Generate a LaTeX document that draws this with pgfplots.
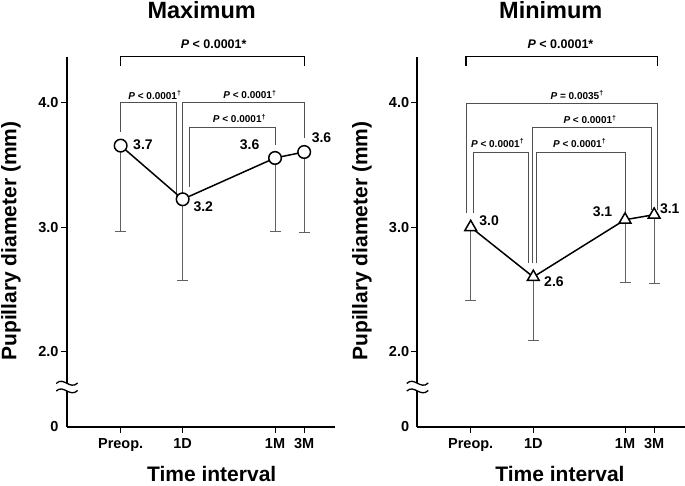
\documentclass[border=0pt]{standalone}
\usepackage{fontspec}
\setmainfont{Liberation Sans}
\usepackage{pgfplots}
\usepackage{pgfplotstable}
\pgfplotsset{compat=1.18}

\definecolor{errgray}{HTML}{606060}
\definecolor{brkgray}{HTML}{505050}

\pgfplotstableread{
x y e
0 3.655 0.691
1 3.224 0.648
2.49 3.556 0.587
2.96 3.604 0.648
}\maxdata

\pgfplotstableread{
x y e
0 3.000 0.585
1 2.600 0.506
2.465 3.060 0.506
2.93 3.100 0.556
}\mindata

\newcommand{\ptxt}[1]{\fontsize{10}{12}\selectfont\bfseries\textit{P} #1}
\newcommand{\pdag}{\textsuperscript{†}}

\tikzset{brk/.style={draw=brkgray, line width=0.9pt}}

\pgfplotsset{
  panel/.style={
    scale only axis, height=370pt,
    ymin=1.395, ymax=4.367,
    axis x line*=bottom, axis y line*=left,
    axis line style={line width=1.9pt, -},
    clip=false,
    ytick={2,3,4}, yticklabels={2.0,3.0,4.0},
    extra y ticks={1.395}, extra y tick labels={0},
    extra y tick style={tick style={draw=none}},
    xticklabels={Preop.,1D,1M,3M},
    tick align=outside, major tick length=6pt,
    tick style={line width=1pt, black},
    ticklabel style={font=\fontsize{14.5}{16}\selectfont\bfseries},
    yticklabel style={inner sep=2pt},
    xticklabel style={inner sep=2pt, yshift=-3pt},
  },
  ebars/.style={draw=none, mark=none, forget plot,
    error bars/.cd, y dir=minus, y explicit,
    error bar style={draw=errgray, line width=0.9pt},
    error mark options={draw=errgray, rotate=90, mark size=5.5pt, line width=0.9pt}},
}

\newcommand{\axbreak}[2]{%
  \fill[white] (#1-3pt,#2-4pt) rectangle (#1+3pt,#2+4pt);
  \draw[line width=1.3pt] (#1-10.5pt,#2+3.5pt) .. controls (#1-3pt,#2+11pt) and (#1+3pt,#2-3.5pt) .. (#1+11pt,#2+4pt);
  \draw[line width=1.3pt] (#1-10.5pt,#2-4pt) .. controls (#1-3pt,#2+3pt) and (#1+3pt,#2-11pt) .. (#1+11pt,#2-3.5pt);
}

\begin{document}
\begin{tikzpicture}
\path[use as bounding box] (0,0) rectangle (685pt,486pt);

% ---------------- Maximum ----------------
\begin{axis}[panel, at={(66.7pt,59pt)}, anchor=south west,
  width=268.3pt, xmin=-0.87, xmax=3.457, xtick={0,1,2.49,2.96}]
  \draw[black, line width=1.3pt] (axis cs:0,4.297) -- (axis cs:0,4.369) -- (axis cs:2.96,4.369) -- (axis cs:2.96,4.297);
  \draw[brk] (axis cs:0,3.767) -- (axis cs:0,4.0) -- (axis cs:0.903,4.0) -- (axis cs:0.903,3.245);
  \draw[brk] (axis cs:1,3.245) -- (axis cs:1,4.0) -- (axis cs:2.96,4.0) -- (axis cs:2.96,3.716);
  \draw[brk] (axis cs:1.106,3.325) -- (axis cs:1.106,3.802) -- (axis cs:2.49,3.802) -- (axis cs:2.49,3.66);
  \addplot[ebars] table[x=x,y=y,y error=e] {\maxdata};
  \addplot[black, line width=1.5pt, mark=*, mark size=6.3pt, mark options={fill=white, line width=1.5pt}] table[x=x,y=y] {\maxdata};
  \node[font=\fontsize{12.5}{14}\selectfont\bfseries] at (axis cs:1.50,4.47) {\textit{P} < 0.0001*};
  \node at (axis cs:0.553,4.062) {\ptxt{< 0.0001\pdag}};
  \node at (axis cs:2.085,4.066) {\ptxt{< 0.0001\pdag}};
  \node at (axis cs:1.916,3.873) {\ptxt{< 0.0001\pdag}};
  \node[font=\fontsize{14}{16}\selectfont\bfseries] at (axis cs:0.36,3.66) {3.7};
  \node[font=\fontsize{14}{16}\selectfont\bfseries] at (axis cs:1.332,3.165) {3.2};
  \node[font=\fontsize{14}{16}\selectfont\bfseries] at (axis cs:2.08,3.66) {3.6};
  \node[font=\fontsize{14}{16}\selectfont\bfseries] at (axis cs:3.24,3.716) {3.6};
\end{axis}

% ---------------- Minimum ----------------
\begin{axis}[panel, at={(417.3pt,59pt)}, anchor=south west,
  width=267.7pt, xmin=-0.853, xmax=3.423, xtick={0,1,2.465,2.93}]
  \draw[black, line width=1.3pt] (axis cs:-0.075,4.297) -- (axis cs:-0.075,4.369) -- (axis cs:2.98,4.369) -- (axis cs:2.98,4.297);
  \draw[brk] (axis cs:-0.075,3.114) -- (axis cs:-0.075,3.995) -- (axis cs:2.98,3.995) -- (axis cs:2.98,3.138);
  \draw[brk] (axis cs:0.99,2.71) -- (axis cs:0.99,3.80) -- (axis cs:2.89,3.80) -- (axis cs:2.89,3.14);
  \draw[brk] (axis cs:0.04,3.114) -- (axis cs:0.04,3.598) -- (axis cs:0.93,3.598) -- (axis cs:0.93,2.71);
  \draw[brk] (axis cs:1.054,2.71) -- (axis cs:1.054,3.598) -- (axis cs:2.465,3.598) -- (axis cs:2.465,3.098);
  \addplot[ebars] table[x=x,y=y,y error=e] {\mindata};
  \addplot[black, line width=1.5pt, mark=triangle*, mark size=6.8pt, mark options={fill=white, line width=1.5pt}] table[x=x,y=y] {\mindata};
  \node[font=\fontsize{12.5}{14}\selectfont\bfseries] at (axis cs:1.434,4.47) {\textit{P} < 0.0001*};
  \node at (axis cs:1.70,4.062) {\ptxt{= 0.0035\pdag}};
  \node at (axis cs:1.906,3.866) {\ptxt{< 0.0001\pdag}};
  \node at (axis cs:0.43,3.674) {\ptxt{< 0.0001\pdag}};
  \node at (axis cs:1.74,3.674) {\ptxt{< 0.0001\pdag}};
  \node[font=\fontsize{14}{16}\selectfont\bfseries] at (axis cs:0.295,3.05) {3.0};
  \node[font=\fontsize{14}{16}\selectfont\bfseries] at (axis cs:1.33,2.56) {2.6};
  \node[font=\fontsize{14}{16}\selectfont\bfseries] at (axis cs:2.105,3.124) {3.1};
  \node[font=\fontsize{14}{16}\selectfont\bfseries] at (axis cs:3.18,3.146) {3.1};
\end{axis}

% axis breaks
\axbreak{66.7pt}{99pt}
\axbreak{417.3pt}{99pt}

% titles and labels
\node[anchor=base, font=\fontsize{23.5}{27}\selectfont\bfseries] at (201.7pt,467pt) {Maximum};
\node[anchor=base, font=\fontsize{23.5}{27}\selectfont\bfseries] at (550.8pt,467pt) {Minimum};
\node[anchor=base, font=\fontsize{21}{24}\selectfont\bfseries] at (211.7pt,4pt) {Time interval};
\node[anchor=base, font=\fontsize{21}{24}\selectfont\bfseries] at (560pt,4pt) {Time interval};
\node[rotate=90, font=\fontsize{21}{24}\selectfont\bfseries] at (11pt,245pt) {Pupillary diameter (mm)};
\node[rotate=90, font=\fontsize{21}{24}\selectfont\bfseries] at (362pt,245pt) {Pupillary diameter (mm)};
\end{tikzpicture}
\end{document}
